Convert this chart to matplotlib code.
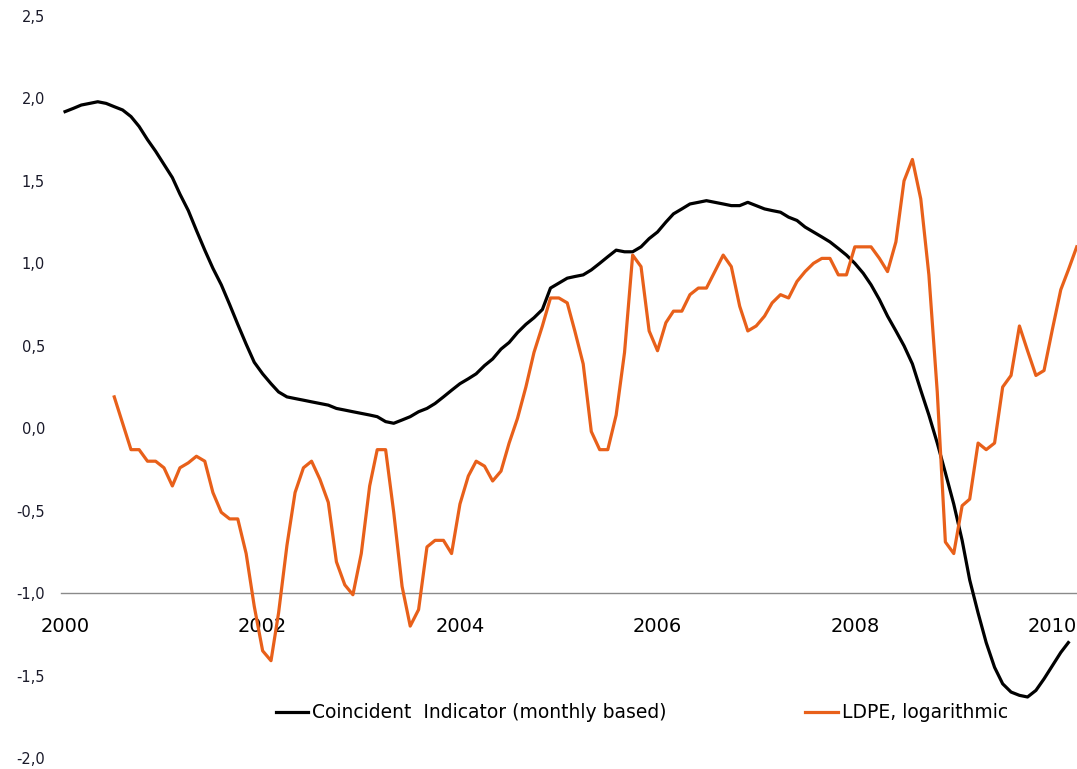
import matplotlib.pyplot as plt
import pandas as pd

# monthly series
ci_dates = pd.date_range("2000-01-01", "2010-03-01", freq="MS")
ci_values = [1.92, 1.94, 1.96, 1.97, 1.98, 1.97, 1.95, 1.93, 1.89, 1.83, 1.75, 1.68,
             1.60, 1.52, 1.42, 1.32, 1.20, 1.08, 0.97, 0.87, 0.75, 0.63, 0.51, 0.40,
             0.33, 0.27, 0.22, 0.19, 0.18, 0.17, 0.16, 0.15, 0.14, 0.12, 0.11, 0.10,
             0.09, 0.08, 0.07, 0.04, 0.03, 0.05, 0.07, 0.10, 0.12, 0.15, 0.19, 0.23,
             0.27, 0.30, 0.33, 0.38, 0.42, 0.48, 0.52, 0.58, 0.63, 0.67, 0.72, 0.85,
             0.88, 0.91, 0.92, 0.93, 0.96, 1.00, 1.04, 1.08, 1.07, 1.07, 1.10, 1.15,
             1.19, 1.25, 1.30, 1.33, 1.36, 1.37, 1.38, 1.37, 1.36, 1.35, 1.35, 1.37,
             1.35, 1.33, 1.32, 1.31, 1.28, 1.26, 1.22, 1.19, 1.16, 1.13, 1.09, 1.05,
             1.00, 0.94, 0.87, 0.78, 0.68, 0.59, 0.50, 0.39, 0.23, 0.08, -0.09, -0.27,
             -0.46, -0.68, -0.92, -1.12, -1.30, -1.45, -1.55, -1.60, -1.62, -1.63, -1.59, -1.52,
             -1.44, -1.36, -1.30]

ldpe_dates = pd.date_range("2000-07-01", "2010-04-01", freq="MS")
ldpe_values = [0.19, 0.03, -0.13, -0.13, -0.20, -0.20,
               -0.24, -0.35, -0.24, -0.21, -0.17, -0.20, -0.39, -0.51, -0.55, -0.55, -0.76, -1.08,
               -1.35, -1.41, -1.12, -0.71, -0.39, -0.24, -0.20, -0.31, -0.45, -0.81, -0.95, -1.01,
               -0.76, -0.35, -0.13, -0.13, -0.51, -0.96, -1.20, -1.10, -0.72, -0.68, -0.68, -0.76,
               -0.46, -0.29, -0.20, -0.23, -0.32, -0.26, -0.09, 0.06, 0.25, 0.46, 0.62, 0.79,
               0.79, 0.76, 0.59, 0.39, -0.02, -0.13, -0.13, 0.08, 0.46, 1.05, 0.98, 0.59,
               0.47, 0.64, 0.71, 0.71, 0.81, 0.85, 0.85, 0.95, 1.05, 0.98, 0.74, 0.59,
               0.62, 0.68, 0.76, 0.81, 0.79, 0.89, 0.95, 1.00, 1.03, 1.03, 0.93, 0.93,
               1.10, 1.10, 1.10, 1.03, 0.95, 1.13, 1.50, 1.63, 1.39, 0.93, 0.22, -0.69,
               -0.76, -0.47, -0.43, -0.09, -0.13, -0.09, 0.25, 0.32, 0.62, 0.47, 0.32, 0.35,
               0.60, 0.84, 0.96, 1.10]

year_ticks = ["2000", "2002", "2004", "2006", "2008", "2010"]
y_ticks = [-2.0, -1.5, -1.0, -0.5, 0.0, 0.5, 1.0, 1.5, 2.0, 2.5]

plt.rcParams["font.family"] = ["DejaVu Sans"]

fig = plt.figure(figsize=(10.77, 7.69), dpi=100)
ax = fig.add_axes([61 / 1077, 1 - 758 / 769, 1 - 61 / 1077, (758 - 16) / 769])

l1, = ax.plot(ci_dates, ci_values, color="black", lw=2.3, solid_joinstyle="round",
              label="Coincident  Indicator (monthly based)", zorder=3)
l2, = ax.plot(ldpe_dates, ldpe_values, color="#E8601A", lw=2.3, solid_joinstyle="round",
              label="LDPE, logarithmic", zorder=4)

ax.set_ylim(-2.0, 2.5)
ax.set_xlim(pd.Timestamp("1999-12-17"), pd.Timestamp("2010-04-02"))

ax.set_yticks(y_ticks)
ax.set_yticklabels([f"{v:.1f}".replace(".", ",") for v in y_ticks])
ax.set_xticks(pd.to_datetime([y + "-01-01" for y in year_ticks]))
ax.set_xticklabels(year_ticks)

for s in ["left", "right", "top"]:
    ax.spines[s].set_visible(False)
ax.spines["bottom"].set_position(("data", -1.0))
ax.spines["bottom"].set_color("#8a8a8a")
ax.spines["bottom"].set_linewidth(1.0)
ax.spines["bottom"].set_zorder(1)

ax.tick_params(axis="both", length=0)
ax.tick_params(axis="y", pad=11.5, labelsize=10.5, labelcolor="#1a1a2a")
ax.tick_params(axis="x", pad=17, labelsize=14, labelcolor="black")

fig.legend(handles=[l1, l2], loc="center", bbox_to_anchor=(0.596, 0.073), ncol=2,
           frameon=False, fontsize=13.5, handlelength=1.75, handletextpad=0.2,
           columnspacing=7.4)

fig.savefig("out.png", dpi=100)
